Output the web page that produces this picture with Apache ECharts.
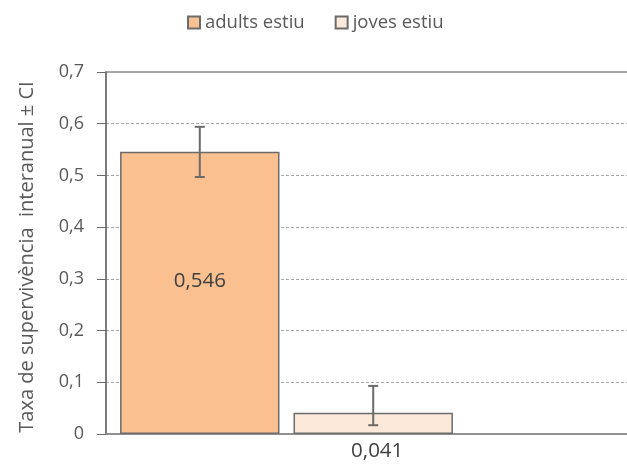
<!DOCTYPE html>
<html><head><meta charset="utf-8">
<script src="https://cdn.jsdelivr.net/npm/echarts@6/dist/echarts.min.js"></script>
<style>html,body{margin:0;padding:0;background:#fff;overflow:hidden;width:627px;height:466px}#c{width:850px;height:466px}</style>
</head><body><div id="c"></div>
<script>
const categories = ['estiu', ''];
const seriesNames = ['adults estiu', 'joves estiu'];
const adultsValues = [0.546, null];
const jovesValues = [0.041, null];
const adultsCI = [[0.497, 0.594], null];
const jovesCI = [[0.017, 0.093], null];
const yTicks = [0, 0.1, 0.2, 0.3, 0.4, 0.5, 0.6, 0.7];

const FONT = 'Open Sans';
const fmt = v => v === 0 ? '0' : String(v).replace('.', ',');
const BAR_GAP = 0.088, CAT_GAP = 0.078;

function errSeries(ci, idx) {
  return {
    type: 'custom', z: 10, silent: true,
    data: ci.map((d, i) => d ? [i, d[0], d[1]] : [i, null, null]),
    renderItem: function (params, api) {
      if (api.value(1) == null || isNaN(api.value(1))) return;
      const band = api.size([1, 0])[0];
      const bw = band * (1 - CAT_GAP) / (2 + BAR_GAP);
      const off = (idx === 0 ? -1 : 1) * bw * (1 + BAR_GAP) / 2;
      const lo = api.coord([api.value(0), api.value(1)]);
      const hi = api.coord([api.value(0), api.value(2)]);
      const x = lo[0] + off, cap = 5;
      const st = {stroke: '#6b6b6b', lineWidth: 2};
      return {type: 'group', children: [
        {type: 'line', shape: {x1: x, y1: lo[1], x2: x, y2: hi[1]}, style: st},
        {type: 'line', shape: {x1: x - cap, y1: lo[1], x2: x + cap, y2: lo[1]}, style: st},
        {type: 'line', shape: {x1: x - cap, y1: hi[1], x2: x + cap, y2: hi[1]}, style: st}
      ]};
    }
  };
}

const chart = echarts.init(document.getElementById('c'));
chart.setOption({
  animation: false,
  textStyle: {fontFamily: FONT},
  legend: {
    top: 8, left: 182, itemGap: 30, itemWidth: 12, itemHeight: 12,
    icon: 'rect',
    data: seriesNames,
    textStyle: {fontFamily: FONT, fontSize: 18.5, color: '#595959'}
  },
  grid: {left: 106, top: 72, width: 722, height: 362, show: true, borderColor: '#8a8a8a', borderWidth: 1.5, backgroundColor: 'transparent'},
  xAxis: {
    type: 'category', data: categories,
    axisLine: {lineStyle: {color: '#8a8a8a', width: 1.5}},
    axisTick: {show: false}, axisLabel: {show: false}
  },
  yAxis: {
    type: 'value', min: 0, max: 0.7, interval: 0.1,
    name: 'Taxa de supervivència  interanual ± CI',
    nameLocation: 'middle', nameGap: 69, nameRotate: 90,
    nameTextStyle: {fontFamily: FONT, fontSize: 20, color: '#595959', padding: [0, 8, 0, 0]},
    axisLine: {show: true, lineStyle: {color: '#6b6b6b', width: 1.5}},
    axisTick: {show: true, length: 9, lineStyle: {color: '#6b6b6b', width: 1}},
    axisLabel: {fontFamily: FONT, fontSize: 18, color: '#595959', margin: 22,
      formatter: v => yTicks.includes(Math.round(v * 10) / 10) ? fmt(Math.round(v * 10) / 10) : ''},
    splitLine: {show: true, lineStyle: {color: '#a6a6a6', type: [3, 2], width: 1}}
  },
  series: [
    {
      name: seriesNames[0], type: 'bar', data: adultsValues,
      barGap: (BAR_GAP * 100) + '%', barCategoryGap: (CAT_GAP * 100) + '%',
      itemStyle: {color: '#FAC090', borderColor: '#6b6b6b', borderWidth: 1.5},
      label: {show: true, position: 'inside', offset: [0, -12], fontFamily: FONT, fontSize: 20.5, color: '#404040',
        formatter: p => fmt(p.value)}
    },
    {
      name: seriesNames[1], type: 'bar', data: jovesValues,
      itemStyle: {color: '#FDE9D9', borderColor: '#6b6b6b', borderWidth: 1.5},
      label: {show: true, position: 'bottom', distance: 7, offset: [4, 0], fontFamily: FONT, fontSize: 20.5, color: '#404040',
        formatter: p => fmt(p.value)}
    },
    errSeries(adultsCI, 0),
    errSeries(jovesCI, 1)
  ]
});
</script></body></html>
